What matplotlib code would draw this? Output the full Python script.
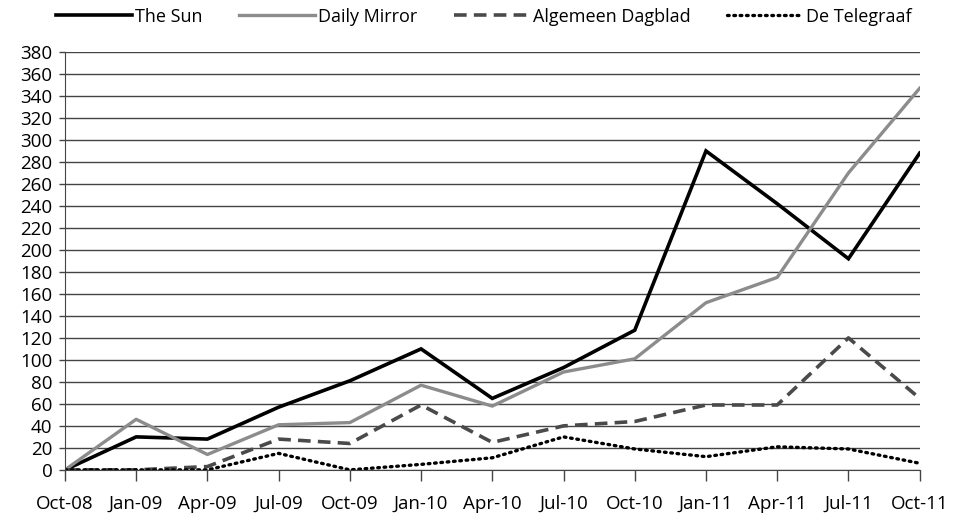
import matplotlib
matplotlib.use("Agg")
import matplotlib.pyplot as plt

months = ["Oct-08", "Jan-09", "Apr-09", "Jul-09", "Oct-09", "Jan-10", "Apr-10",
          "Jul-10", "Oct-10", "Jan-11", "Apr-11", "Jul-11", "Oct-11"]
the_sun = [0, 30, 28, 57, 81, 110, 65, 93, 127, 290, 242, 192, 288]
daily_mirror = [0, 46, 14, 41, 43, 77, 58, 89, 101, 152, 175, 270, 347]
algemeen_dagblad = [0, 0, 3, 28, 24, 59, 25, 40, 44, 59, 59, 120, 65]
de_telegraaf = [0, 0, 0, 15, 0, 5, 11, 30, 19, 12, 21, 19, 6]
yticks = list(range(0, 381, 20))

plt.rcParams['font.family'] = ['Open Sans', 'DejaVu Sans']

fig = plt.figure(figsize=(9.55, 5.25), dpi=100)
ax = fig.add_axes([0.068, 0.105, 0.895, 0.796])

x = list(range(len(months)))
ax.plot(x, the_sun, color='black', lw=2.6, label='The Sun', solid_joinstyle='miter')
ax.plot(x, daily_mirror, color='#8c8c8c', lw=2.4, label='Daily Mirror')
ax.plot(x, algemeen_dagblad, color='#4a4a4a', lw=2.6, ls=(0, (3.5, 2)), label='Algemeen Dagblad')
ax.plot(x, de_telegraaf, color='black', lw=2.4, ls=(0, (0.5, 1.4)), dash_capstyle='round', label='De Telegraaf')

ax.set_xlim(0, len(months) - 1)
ax.set_ylim(0, 380)
ax.set_yticks(yticks)
ax.set_xticks(x)
ax.set_xticklabels(months)
ax.grid(axis='y', color='#444444', lw=1.0)
ax.set_axisbelow(True)
for s in ['top', 'right']:
    ax.spines[s].set_visible(False)
ax.spines['left'].set_color('#444444')
ax.spines['bottom'].set_color('#444444')
ax.tick_params(axis='x', length=8, width=1, color='#444444', labelsize=13.5, pad=10)
ax.tick_params(axis='y', length=4, width=1, color='#444444', labelsize=13.5, pad=5)

ax.legend(loc='upper center', bbox_to_anchor=(0.49, 1.145), ncol=4, frameon=False,
          fontsize=13, handlelength=4.2, handletextpad=0.2, columnspacing=2.0)

fig.savefig('out.png', dpi=100)
